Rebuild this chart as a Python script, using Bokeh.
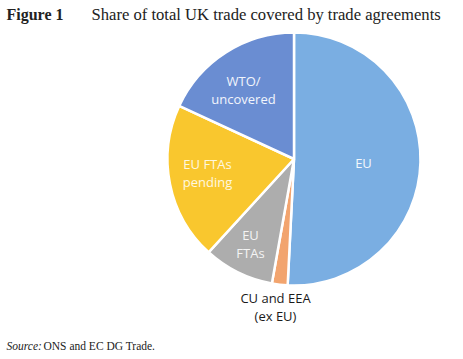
import numpy as np
from bokeh.plotting import figure
from bokeh.models import Range1d, Label
from bokeh.core.properties import value
from bokeh.embed import file_html
from bokeh.resources import INLINE

# Data
categories = ["EU", "CU and EEA (ex EU)", "EU FTAs", "EU FTAs pending", "WTO/uncovered"]
shares = [50.8, 2.0, 9.0, 20.1, 18.1]
colors = ["#7AAEE2", "#F2A46E", "#ADADAD", "#F9C72E", "#6A8DD2"]
label_texts = ["EU", "CU and EEA\n(ex EU)", "EU\nFTAs", "EU FTAs\npending", "WTO/\nuncovered"]
label_colors = ["#F4F8FC", "#1A1A1A", "#F4F4F4", "#FFF8E0", "#F2F5FC"]

W, H = 455, 351
p = figure(width=W, height=H, output_backend="svg", toolbar_location=None,
           x_range=Range1d(0, W), y_range=Range1d(0, H),
           min_border=0, outline_line_color=None)
p.axis.visible = False
p.grid.visible = False
p.background_fill_color = "white"

def Y(screen_y):
    return H - screen_y

cx, cy, r = 293.5, Y(158.5), 126.5
frac = np.array(shares) / sum(shares)
cum = np.concatenate([[0], np.cumsum(frac)])
starts = np.pi / 2 - 2 * np.pi * cum[:-1]
ends = np.pi / 2 - 2 * np.pi * cum[1:]

p.wedge(x=cx, y=cy, radius=r, start_angle=starts, end_angle=ends,
        direction="clock", fill_color=colors, line_color="white", line_width=2.5)

# label positions (layout): centre of each label block
lx = [363, 275, 250, 207, 243]
ly = [162, 306.5, 243.5, 172.5, 89.5]
tx, ty, tt, tc = [], [], [], []
for x0, y0, txt, col in zip(lx, ly, label_texts, label_colors):
    lines = txt.split("\n")
    n = len(lines)
    for i, ln in enumerate(lines):
        tx.append(x0)
        ty.append(Y(y0 + (i - (n - 1) / 2) * 17.5))
        tt.append(ln)
        tc.append(col)
p.text(x=tx, y=ty, text=tt, text_color=tc,
       text_font=value("Open Sans"), text_font_size="13px",
       text_align="center", text_baseline="middle")

p.add_layout(Label(x=6, y=Y(14), text="Figure 1", text_font="Liberation Serif",
                   text_font_size="16px", text_font_style="bold",
                   text_color="#222222", text_baseline="middle"))
p.add_layout(Label(x=91, y=Y(14), text="Share of total UK trade covered by trade agreements",
                   text_font="Liberation Serif", text_font_size="16.6px",
                   text_color="#222222", text_baseline="middle"))
p.add_layout(Label(x=6, y=Y(345), text="Source:", text_font="Liberation Serif",
                   text_font_size="11.5px", text_font_style="italic",
                   text_color="#222222", text_baseline="middle"))
p.add_layout(Label(x=43, y=Y(345), text="ONS and EC DG Trade.", text_font="Liberation Serif",
                   text_font_size="11.5px", text_color="#222222", text_baseline="middle"))

open("out.html", "w").write(file_html(p, INLINE))
